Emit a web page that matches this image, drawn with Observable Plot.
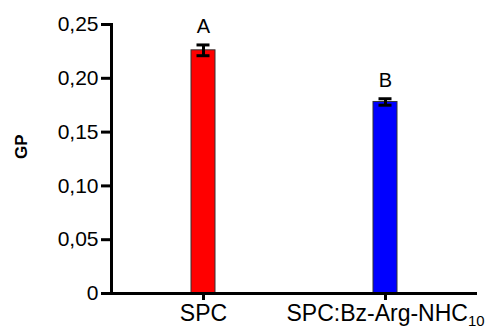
<!DOCTYPE html>
<html>
<head>
<meta charset="utf-8">
<script src="https://cdn.jsdelivr.net/npm/d3@7"></script>
<script src="https://cdn.jsdelivr.net/npm/@observablehq/plot@0.6"></script>
<style>
  html, body { margin: 0; padding: 0; background: #fff; }
  #chart { position: relative; width: 486px; height: 331px; }
</style>
</head>
<body>
<div id="chart"></div>
<script>
const categories = ["SPC", "SPC:Bz-Arg-NHC10"];
const means = [0.226, 0.178];
const errors = [0.005, 0.003];
const letters = ["A", "B"];
const colors = ["#ff0000", "#0000ff"];
const yTicks = [0, 0.05, 0.10, 0.15, 0.20, 0.25];
const yTickLabels = ["0", "0,05", "0,10", "0,15", "0,20", "0,25"];
const yLabel = "GP";

const data = categories.map((c, i) => ({
  cat: c, mean: means[i], lo: means[i] - errors[i], hi: means[i] + errors[i],
  letter: letters[i], color: colors[i]
}));

const font = "'Liberation Sans', Arial, sans-serif";
const ML = 111;

const chart = Plot.plot({
  width: 486,
  height: 331,
  marginLeft: ML,
  marginRight: 9,
  marginTop: 24,
  marginBottom: 38,
  style: { fontFamily: font, background: "white", color: "black" },
  x: { domain: categories, paddingInner: 0.869, paddingOuter: 0.436, axis: null },
  y: { domain: [0, 0.25], axis: null },
  color: { type: "identity" },
  marks: [
    Plot.barY(data, { x: "cat", y: "mean", fill: "color", stroke: "#333", strokeWidth: 1 }),
    Plot.ruleX(data, { x: "cat", y1: "lo", y2: "hi", strokeWidth: 3, stroke: "black" }),
    Plot.tickY(data, { x: "cat", y: "hi", strokeWidth: 3, insetLeft: 5.5, insetRight: 5.5, stroke: "black" }),
    Plot.tickY(data, { x: "cat", y: "lo", strokeWidth: 3, insetLeft: 5.5, insetRight: 5.5, stroke: "black" }),
    Plot.text(data, { x: "cat", y: "hi", text: "letter", dy: -18, fontSize: 20, fill: "black" }),
    Plot.axisY({ ticks: yTicks, tickFormat: d => yTickLabels[yTicks.indexOf(d)], tickSize: 10, strokeWidth: 3, fontSize: 21, tickPadding: 3, label: null }),
    Plot.axisX({ tickSize: 7, strokeWidth: 3, fontSize: 23, tickPadding: 4, label: null }),
    Plot.ruleY([0], { strokeWidth: 3, stroke: "black" }),
    Plot.frame({ anchor: "left", strokeWidth: 3, stroke: "black" }),
    Plot.text([yLabel], { frameAnchor: "left", text: d => d, rotate: -90, dx: -90, fontSize: 17, fontWeight: "bold", fill: "black" })
  ]
});

const ns = "http://www.w3.org/2000/svg";
// subscript for the "10" in NHC10
chart.querySelectorAll("text").forEach(t => {
  if (t.textContent === "SPC:Bz-Arg-NHC10") {
    const target = t.querySelector("tspan") || t;
    target.textContent = "";
    const a = document.createElementNS(ns, "tspan");
    a.textContent = "SPC:Bz-Arg-NHC";
    const b = document.createElementNS(ns, "tspan");
    b.textContent = "10";
    b.setAttribute("font-size", "0.65em");
    b.setAttribute("dy", "0.35em");
    target.appendChild(a);
    target.appendChild(b);
  }
});

const holder = document.getElementById("chart");
holder.appendChild(chart);

// left axis line, positioned from the plot's y scale
const yScale = chart.scale("y");
const yTopPx = yScale.apply(0.25), yBottomPx = yScale.apply(0);
const axisLine = document.createElement("div");
axisLine.style.cssText = `position:absolute;left:${ML - 1.5}px;top:${yTopPx - 1.5}px;width:3px;height:${yBottomPx - yTopPx + 3}px;background:#000;`;
holder.appendChild(axisLine);
</script>
</body>
</html>
